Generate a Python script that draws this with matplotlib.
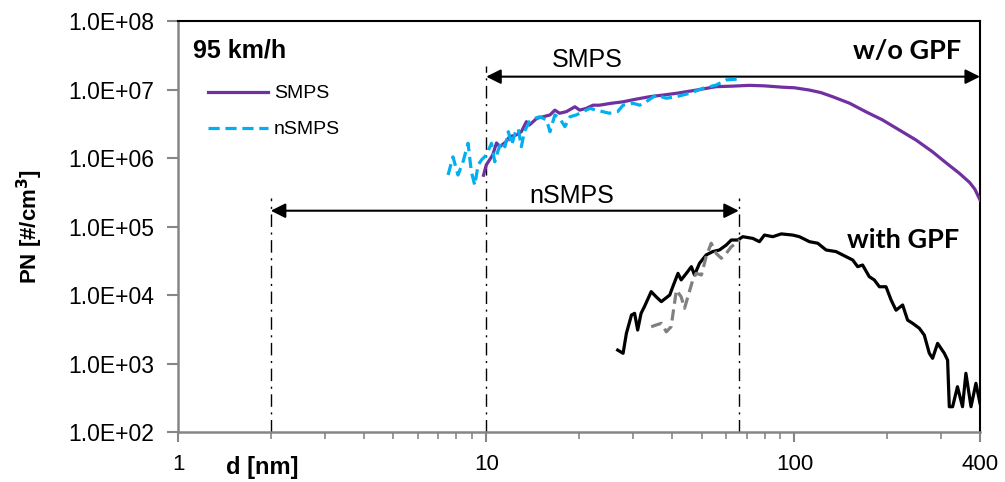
import matplotlib
matplotlib.use("Agg")
import matplotlib.pyplot as plt
from matplotlib.ticker import FixedLocator, NullFormatter, NullLocator

# ---------------- data ----------------
smps_d = [9.8, 10.0, 10.5, 10.8, 11.06, 11.6, 11.9, 12.5, 13.0, 13.5, 13.8, 14.6, 15.3, 16.1,
          16.7, 17.3, 18.2, 19.4, 20.1, 21.1, 22.2, 23.3, 25.5, 27.7, 30.5, 33.9, 37.5, 41.4,
          48.0, 55.7, 63.0, 71.5, 80.0, 91.5, 100.0, 112, 122, 133, 151, 171, 193, 219, 248,
          280, 311, 343, 370, 385, 400]
smps_pn = [5.6e5, 7.9e5, 1.11e6, 1.66e6, 1.46e6, 1.73e6, 2.05e6, 2.17e6, 2.42e6, 3.39e6, 3.03e6,
           3.8e6, 4.0e6, 4.25e6, 5.0e6, 4.5e6, 4.75e6, 5.6e6, 5.0e6, 5.3e6, 5.9e6, 5.9e6, 6.3e6,
           6.6e6, 7.2e6, 7.85e6, 8.3e6, 8.8e6, 9.8e6, 1.1e7, 1.12e7, 1.15e7, 1.13e7, 1.08e7,
           1.06e7, 9.8e6, 9.0e6, 7.85e6, 6.3e6, 4.7e6, 3.6e6, 2.56e6, 1.83e6, 1.24e6, 8.45e5,
           5.97e5, 4.4e5, 3.5e5, 2.44e5]

nsmps_d = [7.52, 7.80, 8.10, 8.41, 8.73, 8.95, 9.18, 9.41, 9.65, 10.0, 10.4, 10.66, 10.9, 11.2,
           11.5, 11.8, 12.1, 12.4, 12.7, 13.0, 13.3, 13.8, 14.4, 14.9, 15.7, 16.1, 16.7, 17.3,
           18.0, 18.7, 19.6, 20.6, 21.7, 22.8, 25.1, 26.7, 27.8, 29.9, 31.5, 33.0, 35.6, 38.4,
           41.4, 45.7, 50.5, 55.7, 60.1, 65.3]
nsmps_pn = [5.65e5, 1.04e6, 5.65e5, 8.8e5, 1.64e6, 6.3e5, 4.0e5, 7.9e5, 9.35e5, 1.1e6, 1.64e6,
            8.8e5, 1.24e6, 1.73e6, 1.46e6, 2.42e6, 1.55e6, 2.3e6, 2.7e6, 1.46e6, 2.42e6, 3.39e6,
            3.8e6, 4.0e6, 3.6e6, 2.42e6, 4.25e6, 3.8e6, 2.87e6, 4.0e6, 4.25e6, 4.75e6, 5.3e6,
            5.0e6, 4.5e6, 4.75e6, 5.9e6, 6.3e6, 5.9e6, 6.6e6, 8.3e6, 7.45e6, 7.85e6, 8.8e6,
            1.04e7, 1.16e7, 1.38e7, 1.42e7]

gpf_smps_d = [26.7, 27.8, 28.5, 29.6, 30.3, 31.0, 31.8, 32.6, 34.3, 35.6, 37.0, 39.4, 40.3, 41.9,
              42.9, 44.6, 46.3, 47.4, 49.2, 51.7, 54.3, 57.1, 60.1, 62.4, 65.5, 68.0, 73.3, 77.0,
              79.9, 85.1, 90.6, 98.7, 103.8, 111.9, 119, 126.7, 136.5, 147.2, 154.6, 160.4, 166.4,
              174.9, 181.6, 188.6, 198.2, 205.9, 213.6, 224.4, 232.9, 241.8, 254.2, 263.8, 273.9,
              280.7, 291.4, 306.4, 314, 318, 326, 338, 351, 360, 374, 388, 400]
gpf_smps_pn = [1.57e3, 1.41e3, 2.76e3, 5.1e3, 5.4e3, 3.08e3, 5.4e3, 6.75e3, 1.12e4, 9.4e3, 8.0e3,
               1.0e4, 1.32e4, 2.07e4, 1.66e4, 2.07e4, 2.59e4, 1.96e4, 2.9e4, 3.84e4, 4.3e4, 4.54e4,
               5.37e4, 6.35e4, 6.35e4, 7.1e4, 6.7e4, 6.0e4, 7.5e4, 7.1e4, 7.8e4, 7.5e4, 7.1e4,
               6.0e4, 5.7e4, 4.54e4, 4.3e4, 3.62e4, 3.24e4, 2.59e4, 2.74e4, 1.85e4, 1.66e4, 1.32e4,
               1.32e4, 8.45e3, 6.0e3, 7.15e3, 4.3e3, 3.86e3, 3.27e3, 2.6e3, 1.41e3, 1.19e3, 1.97e3,
               1.41e3, 1.12e3, 234, 234, 458, 234, 720, 234, 514, 262]

gpf_nsmps_d = [34.3, 35.6, 37.0, 38.4, 39.8, 41.4, 42.9, 44.0, 45.1, 46.8, 48.0, 49.9, 51.7, 53.7,
               55.7, 57.9, 60.1, 62.4, 64.7, 66.4]
gpf_nsmps_pn = [3.44e3, 3.65e3, 3.86e3, 2.9e3, 3.44e3, 1.18e4, 9.4e3, 6.4e3, 9.4e3, 1.66e4,
                2.07e4, 1.96e4, 3.62e4, 5.7e4, 4.06e4, 3.44e4, 4.06e4, 5.07e4, 5.7e4, 6.35e4]

x_ticks = [1, 10, 100, 400]
x_ticklabels = ["1", "10", "100", "400"]
y_ticks = [1e2, 1e3, 1e4, 1e5, 1e6, 1e7, 1e8]
y_ticklabels = ["1.0E+02", "1.0E+03", "1.0E+04", "1.0E+05", "1.0E+06", "1.0E+07", "1.0E+08"]

smps_range = (10, 400)
nsmps_range = (2, 66)
smps_arrow_y = 1.54e7
nsmps_arrow_y = 1.7e5

# ---------------- figure ----------------
plt.rcParams['font.family'] = ['Liberation Sans', 'DejaVu Sans']

fig = plt.figure(figsize=(10.05, 4.82), dpi=100)
ax = fig.add_axes([178/1005, 1-432/482, 802/1005, 411/482])

ax.set_xscale('log')
ax.set_yscale('log')
ax.set_xlim(1, 400)
ax.set_ylim(1e2, 1e8)

purple = '#7030A0'
cyan = '#00B0F0'

# guide lines (dash-dot)
ax.vlines(smps_range[0], 1e2, 2.2e7, colors='black', linestyles=(0, (9, 4, 1.5, 4)), lw=1.0)
ax.vlines(nsmps_range, 1e2, 2.6e5, colors='black', linestyles=(0, (9, 4, 1.5, 4)), lw=1.0)

# arrows
ax.annotate('', xy=(smps_range[0], smps_arrow_y), xytext=(smps_range[1], smps_arrow_y),
            arrowprops=dict(arrowstyle='<|-|>', color='black', lw=1.5, mutation_scale=22,
                            shrinkA=0, shrinkB=0))
ax.annotate('', xy=(nsmps_range[0], nsmps_arrow_y), xytext=(nsmps_range[1], nsmps_arrow_y),
            arrowprops=dict(arrowstyle='<|-|>', color='black', lw=1.5, mutation_scale=22,
                            shrinkA=0, shrinkB=0))
ax.text(0.51, 0.889, 'SMPS', transform=ax.transAxes, ha='center', va='baseline', fontsize=18)
ax.text(0.491, 0.557, 'nSMPS', transform=ax.transAxes, ha='center', va='baseline', fontsize=18)

# curves
l1, = ax.plot(smps_d, smps_pn, color=purple, lw=2.3, label='SMPS', zorder=3)
l2, = ax.plot(nsmps_d, nsmps_pn, color=cyan, lw=2.3, ls=(0, (3.5, 1.8)), label='nSMPS', zorder=4)
ax.plot(gpf_smps_d, gpf_smps_pn, color='black', lw=2.3, zorder=3)
ax.plot(gpf_nsmps_d, gpf_nsmps_pn, color='#808080', lw=2.3, ls=(0, (3.5, 1.8)), zorder=4)

leg = ax.legend(handles=[l1, l2], loc='upper left', bbox_to_anchor=(0.037, 0.845),
                frameon=False, fontsize=14, handlelength=3.1, handletextpad=0.3,
                labelspacing=0.95, borderpad=0, borderaxespad=0)

# labels inside
ax.text(0.0187, 0.9124, '95 km/h', transform=ax.transAxes, ha='left', va='baseline',
        fontsize=18, fontweight='bold')
ax.text(0.976, 0.9075, 'w/o GPF', transform=ax.transAxes, ha='right', va='baseline',
        fontsize=19.5, fontweight='bold', family=['Lato', 'DejaVu Sans'])
ax.text(0.834, 0.4477, 'with GPF', transform=ax.transAxes, ha='left', va='baseline',
        fontsize=19.5, fontweight='bold', family=['Lato', 'DejaVu Sans'])

# axes styling
for s in ['left', 'bottom']:
    ax.spines[s].set_color('#868686')
    ax.spines[s].set_linewidth(1.8)
for s in ['top', 'right']:
    ax.spines[s].set_color('black')
    ax.spines[s].set_linewidth(1.5)

ax.xaxis.set_major_locator(FixedLocator(x_ticks))
ax.set_xticklabels(x_ticklabels)
ax.xaxis.set_minor_locator(FixedLocator([2, 3, 4, 5, 6, 7, 8, 9, 20, 30, 40, 50, 60, 70, 80, 90, 200, 300]))
ax.xaxis.set_minor_formatter(NullFormatter())
ax.yaxis.set_major_locator(FixedLocator(y_ticks))
ax.set_yticklabels(y_ticklabels)
ax.yaxis.set_minor_locator(NullLocator())

ax.tick_params(axis='x', which='major', direction='out', length=7, width=1.5, color='#868686',
               labelsize=16, pad=9, top=False)
ax.tick_params(axis='x', which='minor', direction='out', length=5, width=1.2, color='#868686', top=False)
ax.tick_params(axis='y', which='major', direction='out', length=8, width=1.5, color='#868686',
               labelsize=16.5, pad=9, right=False)

ax.set_ylabel('PN [#/cm$^\\mathbf{3}$]', fontsize=16, fontweight='bold')
ax.yaxis.set_label_coords(-0.166, 0.5)
ax.set_xlabel('d [nm]', fontsize=17, fontweight='bold')
ax.xaxis.set_label_coords(0.105, -0.058)

fig.savefig('out.png', dpi=100)
